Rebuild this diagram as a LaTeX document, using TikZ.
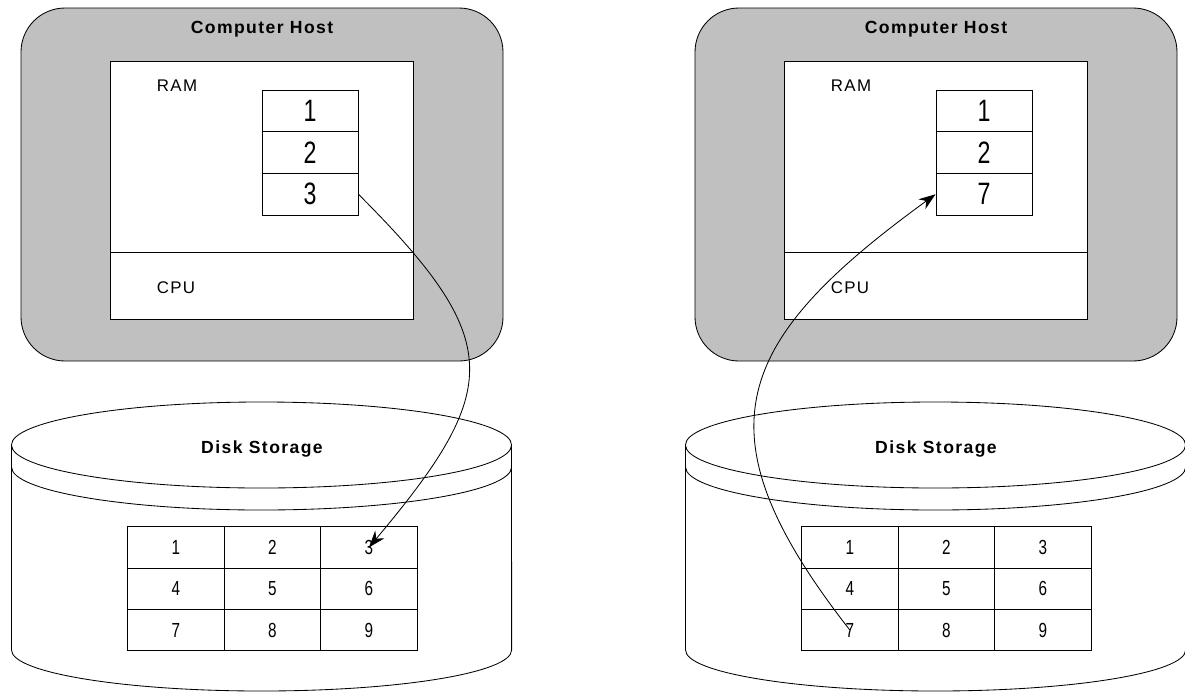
\documentclass[tikz,border=0pt]{standalone}
\usepackage{fontspec}
\setmainfont{Liberation Sans}
\newfontfamily\digitfont[FakeStretch=0.75]{Liberation Sans}
\usepackage{xcolor}
\definecolor{hostgray}{HTML}{C0C0C0}
\usetikzlibrary{positioning,arrows.meta}

\begin{document}
\begin{tikzpicture}[x=0.025cm, y=-0.025cm, line width=0.6pt,
    host/.style={draw, fill=hostgray, rounded corners=1.1cm},
    ramcell/.style={draw, fill=white, minimum width=2.4cm, minimum height=1.04cm, inner sep=0pt, font=\digitfont\fontsize{22}{24}\selectfont},
    diskcell/.style={draw, minimum width=2.41cm, minimum height=1.035cm, inner sep=0pt, font=\digitfont\fontsize{14.5}{16}\selectfont},
    partname/.style={font=\addfontfeatures{LetterSpace=8}\fontsize{12}{14}\selectfont},
    title/.style={font=\bfseries\addfontfeatures{LetterSpace=8}\fontsize{12.5}{14}\selectfont},
    tip/.style={-{Stealth[length=12pt,width=8.5pt]}}]
    \useasboundingbox (0,0) rectangle (1185,692);

    \foreach \side/\sx/\last in {L/0/3, R/674/7} {
    \begin{scope}[shift={(\sx,0)}]
        % Host with RAM and CPU
        \draw[host] (21,8) rectangle (503,361);
        \node[title] (host\side) at (262,29) {Computer Host};
        \draw[fill=white] (110,61) rectangle (413,319);
        \draw (110,252) -- (413,252);
        \node[partname] (ramname\side) at (177,86) {RAM};
        \node[partname] (cpuname\side) at (176,288) {CPU};
        \foreach \v [count=\i] in {1,2,\last}
            \node[ramcell] (ram\side\i) at (310,{90+41.7*(\i-0.5)}) {\v};

        % Disk storage
        \draw (11.5,445) -- (11.5,650) arc[start angle=180, end angle=360, x radius=6.25cm, y radius=1.025cm] -- (511.5,445);
        \draw (261.5,445) ellipse[x radius=6.25cm, y radius=1.075cm];
        \draw (11.5,467) arc[start angle=180, end angle=360, x radius=6.25cm, y radius=1.075cm];
        \node[title] (disk\side) at (262,449) {Disk Storage};
        \foreach \n [evaluate=\n as \cx using {127.7+96.5*(mod(\n-1,3)+0.5)},
                     evaluate=\n as \cy using {526.7+41.4*(int((\n-1)/3)+0.5)}] in {1,...,9}
            \node[diskcell] (disk\side\n) at (\cx,\cy) {\n};
    \end{scope}
    }

    % Swapping
    \draw[tip] (ramL3.east) to[out=-45, in=50, looseness=1.5] (diskL3.center);
    \draw[tip] (diskR7.center) to[out=128, in=216, looseness=1.45] (ramR3.west);
\end{tikzpicture}
\end{document}
